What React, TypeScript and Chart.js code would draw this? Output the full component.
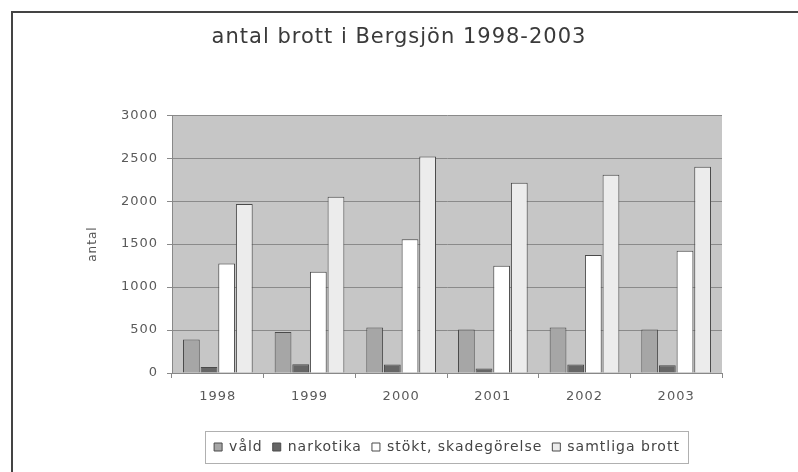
import React, { useEffect, useRef } from "react";
import { Chart, registerables } from "chart.js";

Chart.register(...registerables);

const categories = ["1998", "1999", "2000", "2001", "2002", "2003"];
const vald = [390, 478, 529, 506, 529, 506];
const narkotika = [70, 101, 98, 51, 98, 90];
const stokt = [1275, 1177, 1555, 1247, 1372, 1422];
const samtliga = [1966, 2051, 2518, 2215, 2308, 2401];
const seriesNames = ["våld", "narkotika", "stökt, skadegörelse", "samtliga brott"];
const titleText = "antal brott i Bergsjön 1998-2003";
const yTitle = "antal";

const FONT = "'DejaVu Sans', Verdana, sans-serif";

const spacing = {
  id: "spacing",
  beforeUpdate(chart: any) {
    chart.ctx.letterSpacing = "1px";
  },
  beforeDraw(chart: any) {
    chart.ctx.letterSpacing = "1px";
  },
};

const plotBg = {
  id: "plotBg",
  beforeDraw(chart: any) {
    const { ctx, chartArea } = chart;
    if (!chartArea) return;
    ctx.save();
    ctx.fillStyle = "#c6c6c6";
    ctx.fillRect(chartArea.left, chartArea.top, chartArea.right - chartArea.left, chartArea.bottom - chartArea.top);
    ctx.restore();
  },
  afterDraw(chart: any) {
    const lg = chart.legend;
    if (!lg || !lg.legendHitBoxes || !lg.legendHitBoxes.length) return;
    const boxes = lg.legendHitBoxes;
    let l = Infinity, r = -Infinity, t = Infinity, b = -Infinity;
    boxes.forEach((h: any) => {
      l = Math.min(l, h.left);
      r = Math.max(r, h.left + h.width);
      t = Math.min(t, h.top);
      b = Math.max(b, h.top + h.height);
    });
    const cy = (t + b) / 2;
    const ctx = chart.ctx;
    ctx.save();
    ctx.strokeStyle = "#b0b0b0";
    ctx.lineWidth = 1;
    ctx.strokeRect(Math.round(l - 9) + 0.5, Math.round(cy - 16) + 0.5, Math.round(r - l + 17), 32);
    ctx.restore();
  },
};

export default function App() {
  const ref = useRef<HTMLCanvasElement>(null);
  useEffect(() => {
    const canvas = ref.current!;
    const mk = (label: string, data: number[], color: string) => ({
      label,
      data,
      backgroundColor: color,
      borderColor: "#4a4a4a",
      borderWidth: 1,
      categoryPercentage: 0.77,
      barPercentage: 0.95,
    });
    const chart = new Chart(canvas, {
      type: "bar",
      data: {
        labels: categories,
        datasets: [
          mk(seriesNames[0], vald, "#a6a6a6"),
          mk(seriesNames[1], narkotika, "#666666"),
          mk(seriesNames[2], stokt, "#ffffff"),
          mk(seriesNames[3], samtliga, "#ececec"),
        ],
      },
      options: {
        responsive: false,
        animation: false,
        layout: { padding: { left: 0, right: 0, top: 0, bottom: 8 } },
        plugins: {
          title: {
            display: true,
            text: titleText,
            color: "#3a3a3a",
            font: { family: FONT, size: 21, weight: "normal" },
            padding: { top: 25, bottom: 65 },
          },
          legend: {
            position: "bottom",
            fullSize: false,
            labels: {
              color: "#444",
              font: { family: FONT, size: 14 },
              boxWidth: 8,
              boxHeight: 8,
              padding: 10,
            },
          },
          tooltip: { enabled: false },
        },
        scales: {
          x: {
            offset: true,
            grid: { display: true, drawOnChartArea: false, tickLength: 5, color: "#888", offset: true },
            border: { color: "#888" },
            ticks: { color: "#5a5a5a", font: { family: FONT, size: 13 }, padding: 11 },
            afterFit(scale: any) {
              scale.height = 57;
            },
          },
          y: {
            min: 0,
            max: 3000,
            ticks: {
              stepSize: 500,
              color: "#5a5a5a",
              font: { family: FONT, size: 13 },
              padding: 9,
              callback: (v: any) => String(v),
            },
            grid: { color: "#8a8a8a", tickLength: 5 },
            border: { color: "#888" },
            title: {
              display: true,
              text: yTitle,
              color: "#555",
              font: { family: FONT, size: 12 },
              padding: { top: 86, bottom: 0 },
            },
            afterFit(scale: any) {
              scale.width = 172;
            },
          },
          yr: {
            position: "right",
            display: true,
            grid: { display: false, drawOnChartArea: false },
            border: { display: false },
            ticks: { display: false },
            afterFit(scale: any) {
              scale.width = 76;
            },
          },
        },
      },
      plugins: [spacing, plotBg],
    } as any);
    return () => chart.destroy();
  }, []);
  return (
    <div style={{ position: "fixed", left: 0, top: 0, width: 798, height: 472, background: "#fff" }}>
      <canvas ref={ref} width={798} height={472} style={{ display: "block" }} />
      <div
        style={{
          position: "absolute",
          left: 11,
          top: 11,
          right: 0,
          bottom: 0,
          borderTop: "2px solid #444",
          borderLeft: "2px solid #444",
          pointerEvents: "none",
        }}
      />
    </div>
  );
}
